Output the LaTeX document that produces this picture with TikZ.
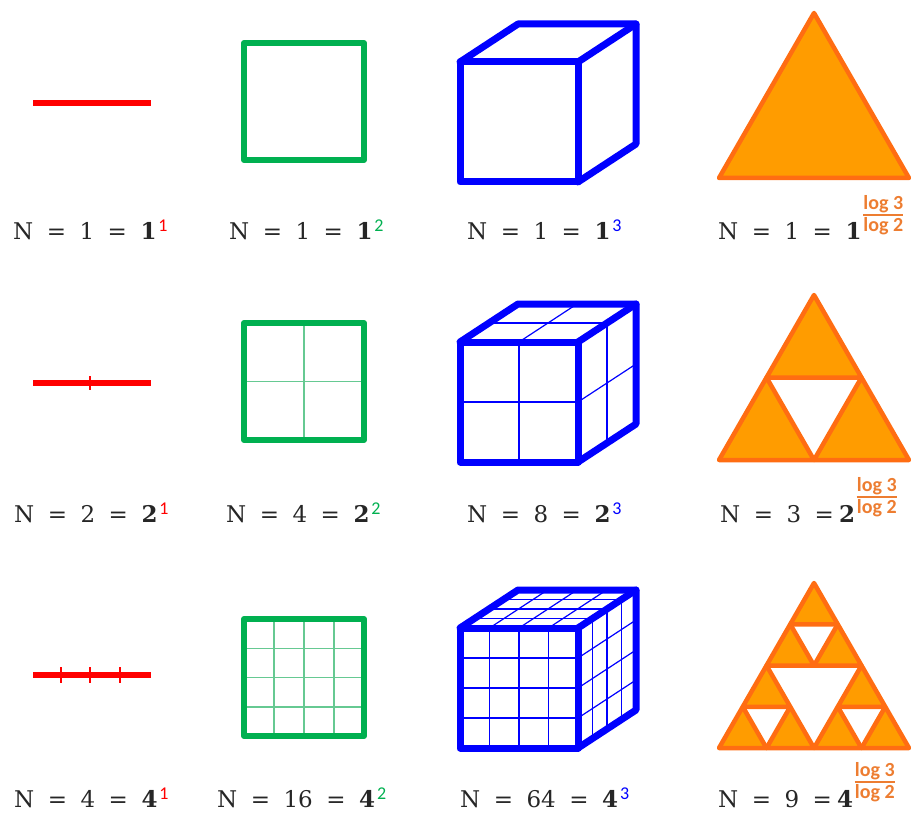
\documentclass[tikz,border=0pt]{standalone}
\usepackage{fontspec}
\setmainfont{DejaVu Serif}
\newfontfamily\carlito{Carlito}
\usetikzlibrary{calc}
\definecolor{dred}{HTML}{FF0000}
\definecolor{dgreen}{HTML}{00B050}
\definecolor{dgrid}{HTML}{66C992}
\definecolor{dblue}{HTML}{0000FF}
\definecolor{ofill}{HTML}{FF9C00}
\definecolor{ostroke}{HTML}{FF6D12}
\definecolor{otext}{HTML}{ED7D31}
\newcommand\Lab[4]{N\hspace{#3}=\hspace{#3}#1\hspace{#3}=\hspace{#4}\textbf{#2}}
\newcommand\cubegrid[3]{%
  \foreach \k in {#3}{%
    \draw[cubegridline] ({460+\k*118/#2},#1) -- ++(0,120);
    \draw[cubegridline] (460,{#1+\k*120/#2}) -- ++(118,0);
    \draw[cubegridline] ({460+\k*118/#2},#1) -- ++(58,-38);
    \draw[cubegridline] ({460+\k*58/#2},{#1-\k*38/#2}) -- ++(118,0);
    \draw[cubegridline] ({578+\k*58/#2},{#1-\k*38/#2}) -- ++(0,120);
    \draw[cubegridline] (578,{#1+\k*120/#2}) -- ++(58,-38);
  }}
\newcommand\cubeoutline[1]{%
  \draw[cubeline] (460,#1) rectangle (578,{#1+120});
  \draw[cubeline] (460,#1) -- ++(58,-38) -- ++(118,0) -- ++(0,120) -- ++(-58,38);
  \draw[cubeline] (578,#1) -- ++(58,-38);}
\begin{document}
\begin{tikzpicture}[x=1pt,y=-1pt,
  redline/.style={draw=dred,line width=6pt},
  redtick/.style={draw=dred,line width=1.4pt},
  sqline/.style={draw=dgreen,line width=6pt,line join=round},
  sqgrid/.style={draw=dgrid,line width=1.5pt},
  cubeline/.style={draw=dblue,line width=7pt,line join=round,line cap=round},
  cubegridline/.style={draw=dblue,line width=1.2pt},
  sier/.style={fill=ofill,draw=ostroke,line width=4.5pt,line join=round},
  lab/.style={anchor=base west,inner sep=0pt,text=black!85,font=\fontsize{23}{28}\selectfont},
  expo/.style={anchor=base west,inner sep=0pt,font=\carlito\fontsize{18}{20}\selectfont},
  frac/.style={inner sep=0pt,text=otext,font=\carlito\bfseries\fontsize{20}{22}\selectfont},
  fracbar/.style={draw=otext,line width=1.6pt}]
\useasboundingbox (0,0) rectangle (916,813);
% ---- red segments
\draw[redline] (33,103) -- (151,103);
\draw[redline] (33,383) -- (151,383);
\draw[redtick] (90,376) -- (90,390);
\draw[redline] (33,675) -- (151,675);
\foreach \x in {61,90,120} \draw[redtick] (\x,667) -- (\x,683);
% ---- green squares
\draw[sqline] (244,43) rectangle (364,160);
\draw[sqgrid] (304,323) -- (304,440);
\draw[sqgrid] (244,381.5) -- (364,381.5);
\draw[sqline] (244,323) rectangle (364,440);
\foreach \k in {1,2,3}{
  \draw[sqgrid] ({244+\k*30},619) -- ({244+\k*30},736);
  \draw[sqgrid] (244,{619+\k*29.25}) -- (364,{619+\k*29.25});
}
\draw[sqline] (244,619) rectangle (364,736);
% ---- blue cubes
\cubeoutline{62}
\cubegrid{342}{2}{1}
\cubeoutline{342}
\cubegrid{628}{4}{1,2,3}
\cubeoutline{628}
% ---- Sierpinski triangles
\filldraw[sier] (814,13) -- ++(-95,165) -- ++(190,0) -- cycle;
\foreach \dx/\dy in {0/0,-47.5/82.5,47.5/82.5}
  \filldraw[sier] ({814+\dx},{295+\dy}) -- ++(-47.5,82.5) -- ++(95,0) -- cycle;
\foreach \dx/\dy in {0/0,-47.5/82.5,47.5/82.5}
  \foreach \ex/\ey in {0/0,-23.75/41.25,23.75/41.25}
    \filldraw[sier] ({814+\dx+\ex},{583+\dy+\ey}) -- ++(-23.75,41.25) -- ++(47.5,0) -- cycle;
% ---- labels row 1
\node[lab] (l11) at (13,240) {\Lab{1}{1}{13.5pt}{13.5pt}};
\node[expo,text=dred] (e11) at ([xshift=1.5pt,yshift=8pt]l11.base east) {1};
\node[lab] (l12) at (229,240) {\Lab{1}{1}{13.5pt}{13.5pt}};
\node[expo,text=dgreen] (e12) at ([xshift=1.5pt,yshift=8pt]l12.base east) {2};
\node[lab] (l13) at (467,240) {\Lab{1}{1}{13.5pt}{13.5pt}};
\node[expo,text=dblue] (e13) at ([xshift=1.5pt,yshift=8pt]l13.base east) {3};
\node[lab] (l14) at (718,240) {\Lab{1}{1}{13.5pt}{13.5pt}};
\node[frac,anchor=base west] (n14) at ([xshift=1.5pt,yshift=30.5pt]l14.base east) {log 3};
\draw[fracbar] ([yshift=-5.5pt]n14.base west) -- ([yshift=-5.5pt]n14.base east);
\node[frac,anchor=base] (d14) at ([yshift=-22pt]n14.base) {log 2};
% ---- labels row 2
\node[lab] (l21) at (14,522) {\Lab{2}{2}{13.5pt}{13.5pt}};
\node[expo,text=dred] (e21) at ([xshift=1.5pt,yshift=8pt]l21.base east) {1};
\node[lab] (l22) at (226,522) {\Lab{4}{2}{13.5pt}{13.5pt}};
\node[expo,text=dgreen] (e22) at ([xshift=1.5pt,yshift=8pt]l22.base east) {2};
\node[lab] (l23) at (467,522) {\Lab{8}{2}{13.5pt}{13.5pt}};
\node[expo,text=dblue] (e23) at ([xshift=1.5pt,yshift=8pt]l23.base east) {3};
\node[lab] (l24) at (720,522) {\Lab{3}{2}{13.5pt}{5pt}};
\node[frac,anchor=base west] (n24) at ([xshift=1.5pt,yshift=30.5pt]l24.base east) {log 3};
\draw[fracbar] ([yshift=-5.5pt]n24.base west) -- ([yshift=-5.5pt]n24.base east);
\node[frac,anchor=base] (d24) at ([yshift=-22pt]n24.base) {log 2};
% ---- labels row 3
\node[lab] (l31) at (14,807) {\Lab{4}{4}{13.5pt}{13.5pt}};
\node[expo,text=dred] (e31) at ([xshift=1.5pt,yshift=8pt]l31.base east) {1};
\node[lab] (l32) at (217,807) {\Lab{16}{4}{13.5pt}{13.5pt}};
\node[expo,text=dgreen] (e32) at ([xshift=1.5pt,yshift=8pt]l32.base east) {2};
\node[lab] (l33) at (460,807) {\Lab{64}{4}{13.5pt}{13.5pt}};
\node[expo,text=dblue] (e33) at ([xshift=1.5pt,yshift=8pt]l33.base east) {3};
\node[lab] (l34) at (718,807) {\Lab{9}{4}{13.5pt}{5pt}};
\node[frac,anchor=base west] (n34) at ([xshift=1.5pt,yshift=30.5pt]l34.base east) {log 3};
\draw[fracbar] ([yshift=-5.5pt]n34.base west) -- ([yshift=-5.5pt]n34.base east);
\node[frac,anchor=base] (d34) at ([yshift=-22pt]n34.base) {log 2};
\end{tikzpicture}
\end{document}
